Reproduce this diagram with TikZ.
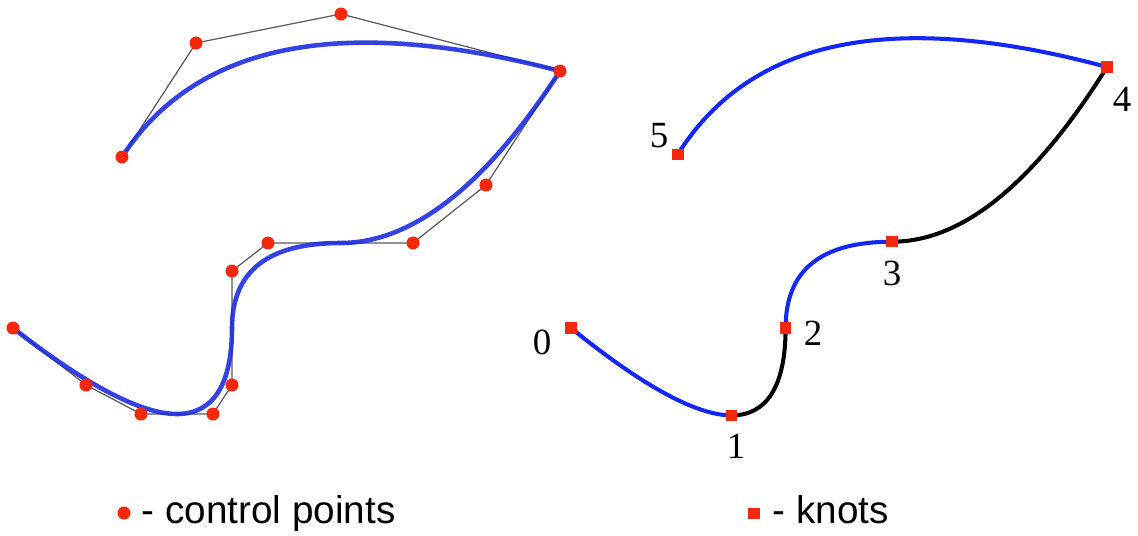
\documentclass[tikz,border=0pt]{standalone}
\usepackage{fontspec}
\setmainfont{Liberation Serif}
\newfontfamily\legendfont{Liberation Sans}
\usetikzlibrary{positioning,calc}
\definecolor{ptred}{RGB}{246,40,12}
\definecolor{splineblue}{RGB}{24,40,225}
\definecolor{segblue}{RGB}{18,40,250}

\begin{document}
\begin{tikzpicture}[
  x=0.01cm,y=-0.01cm,
  ctrl/.style={circle,fill=ptred,inner sep=0pt,minimum size=0.13cm},
  knot/.style={rectangle,fill=ptred,inner sep=0pt,minimum size=0.115cm},
  poly/.style={black!65,line width=0.35pt},
  spline/.style={splineblue,line width=1.3pt,opacity=0.88},
  segA/.style={segblue,line width=1.15pt},
  segB/.style={black,line width=1.15pt},
  num/.style={font=\fontsize{10.5}{12}\selectfont,inner sep=0pt},
  legend/.style={font=\legendfont\fontsize{11}{13}\selectfont,inner sep=0pt,anchor=base west}
]
  \useasboundingbox (0,0) rectangle (1138,535);

  % control points (left)
  \coordinate (p0)  at (13,328);
  \coordinate (p1)  at (86,385);
  \coordinate (p2)  at (141,414);
  \coordinate (p3)  at (213,414);
  \coordinate (p4)  at (232,385);
  \coordinate (p5)  at (232,271);
  \coordinate (p6)  at (268,243);
  \coordinate (p7)  at (413,243);
  \coordinate (p8)  at (486,185);
  \coordinate (p9)  at (560,71);
  \coordinate (p10) at (341,14);
  \coordinate (p11) at (196,43);
  \coordinate (p12) at (122,157);
  % implied joints
  \coordinate (m1) at ($(p2)!0.5!(p3)$);
  \coordinate (m2) at ($(p4)!0.5!(p5)$);
  \coordinate (m3) at ($(p6)!0.5!(p7)$);

  % control polygon
  \draw[poly] (p0)--(p1)--(p2)--(p3)--(p4)--(p5)--(p6)--(p7)
    --(p8)--(p9)--(p10)--(p11)--(p12);

  % the curve
  \draw[spline] (p0) .. controls (p1) and (p2) .. (m1)
    .. controls (p3) and (p4) .. (m2)
    .. controls (p5) and (p6) .. (m3)
    .. controls (p7) and (p8) .. (p9)
    .. controls (p10) and (p11) .. (p12);

  \foreach \i in {0,...,12}
    \node[ctrl] (c\i) at (p\i) {};

  % knots (right)
  \coordinate (q0) at (571,328);
  \coordinate (q1) at (731.7,415.4);
  \coordinate (q2) at (785.6,328);
  \coordinate (q3) at (892,241.7);
  \coordinate (q4) at (1107,67);
  \coordinate (q5) at (677.8,154.3);

  \draw[segA] (q0) .. controls (642.5,385.9) and (696.4,415.4) .. (q1);
  \draw[segB] (q1) .. controls (767,415.4) and (785.6,385.9) .. (q2);
  \draw[segA] (q2) .. controls (785.6,270.1) and (820.9,241.7) .. (q3);
  \draw[segB] (q3) .. controls (963,241.7) and (1034.5,182.8) .. (q4);
  \draw[segA] (q4) .. controls (892.4,9.1) and (750.3,38.6) .. (q5);

  \foreach \k in {0,...,5}
    \node[knot] (k\k) at (q\k) {};

  % knot numbers
  \node[num] (n0) at (542,342) {0};
  \node[num] (n1) at (736,446) {1};
  \node[num] (n2) at (813,333) {2};
  \node[num] (n3) at (892,273) {3};
  \node[num] (n4) at (1122,99) {4};
  \node[num] (n5) at (659,136) {5};

  % legend
  \node[ctrl] (lc) at (124,513) {};
  \node[legend] (lctext) at (141,523) {- control points};
  \node[knot,minimum size=0.11cm] (lk) at (754,513) {};
  \node[legend] (lktext) at (772,523) {- knots};
\end{tikzpicture}
\end{document}
